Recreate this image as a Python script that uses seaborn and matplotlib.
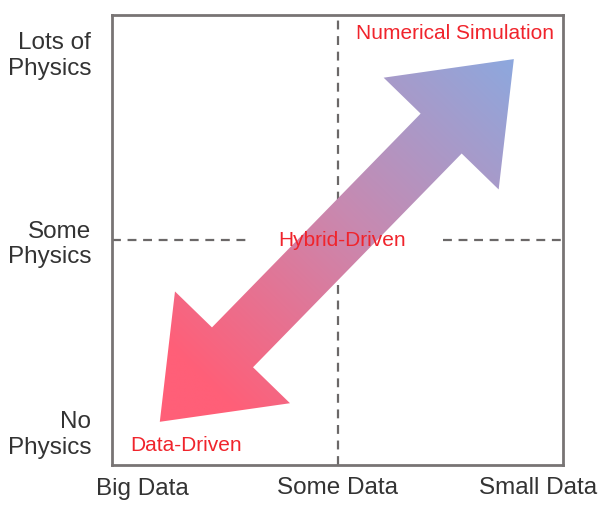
import numpy as np
import pandas as pd
import matplotlib
matplotlib.use("Agg")
import matplotlib.pyplot as plt
import seaborn as sns
from matplotlib.colors import LinearSegmentedColormap
from matplotlib.patches import Polygon

# ---- data ----
x_tick_pos = [0.067, 0.5, 0.945]
x_tick_labels = ["Big Data", "Some Data", "Small Data"]
y_tick_pos = [0.076, 0.5, 0.918]
y_tick_labels = ["No\nPhysics", "Some\nPhysics", "Lots of\nPhysics"]

region_labels = ["Data-Driven", "Hybrid-Driven", "Numerical Simulation"]
region_x = [0.164, 0.51, 0.76]
region_y = [0.044, 0.5, 0.958]

arrow_start = (0.106, 0.096)
arrow_end = (0.891, 0.902)
shaft_width = 0.127
head_width = 0.356
head_length = 0.231

grad_colors = [(0.0, "#ff5f78"), (0.12, "#ff5f78"), (0.55, "#c889b0"), (1.0, "#8da8de")]

vline_x = [0.5, 0.5]
vline_y = [0.0, 1.0]
hline_left_x = [0.0, 0.30]
hline_right_x = [0.734, 1.0]
hline_y = [0.5, 0.5]

# ---- figure ----
sns.set_theme(style="white")
plt.rcParams["font.family"] = ["Liberation Sans", "DejaVu Sans"]

fig = plt.figure(figsize=(6.08, 5.12), dpi=100)
ax = fig.add_axes([112 / 608, 47 / 512, 451 / 608, 450 / 512])
ax.set_xlim(0, 1)
ax.set_ylim(0, 1)

dash_kw = dict(color="#6b6868", linewidth=1.6, estimator=None, sort=False, ax=ax, zorder=1)
line_style = (0, (4, 3))
sns.lineplot(x=vline_x, y=vline_y, linestyle=line_style, **dash_kw)
sns.lineplot(x=hline_left_x, y=hline_y, linestyle=line_style, **dash_kw)
sns.lineplot(x=hline_right_x, y=hline_y, linestyle=line_style, **dash_kw)

# arrow polygon
s = np.array(arrow_start)
e = np.array(arrow_end)
d = e - s
L = np.hypot(*d)
u = d / L
n = np.array([-u[1], u[0]])
be = e - u * head_length
bs = s + u * head_length
verts = [
    e,
    be + n * head_width / 2,
    be + n * shaft_width / 2,
    bs + n * shaft_width / 2,
    bs + n * head_width / 2,
    s,
    bs - n * head_width / 2,
    bs - n * shaft_width / 2,
    be - n * shaft_width / 2,
    be - n * head_width / 2,
]
poly = Polygon(verts, closed=True, facecolor="none", edgecolor="none",
               transform=ax.transData, zorder=0)
ax.add_patch(poly)

gx, gy = np.meshgrid(np.linspace(0, 1, 500), np.linspace(0, 1, 500))
t = ((gx - s[0]) * u[0] + (gy - s[1]) * u[1]) / L
t = np.clip(t, 0, 1)
cmap = LinearSegmentedColormap.from_list("arrow", grad_colors)
im = ax.imshow(t, cmap=cmap, vmin=0, vmax=1, extent=[0, 1, 0, 1], origin="lower",
               interpolation="bilinear", zorder=4, aspect="auto")
im.set_clip_path(poly)

for lab, x, y in zip(region_labels, region_x, region_y):
    ax.text(x, y, lab, color="#f0242c", fontsize=15, ha="center", va="center", zorder=5)

ax.set_xticks(x_tick_pos)
ax.set_xticklabels(x_tick_labels, fontsize=17.5, color="#333333")
ax.set_yticks(y_tick_pos)
ax.set_yticklabels(y_tick_labels, fontsize=17.5, color="#333333", ha="right", multialignment="right")
ax.tick_params(axis="both", length=0)
ax.tick_params(axis="x", pad=9)
ax.tick_params(axis="y", pad=15)
ax.grid(False)

for sp in ax.spines.values():
    sp.set_visible(True)
    sp.set_color("#787474")
    sp.set_linewidth(2.0)
    sp.set_zorder(6)

fig.savefig("out.png", dpi=100, facecolor="white")
